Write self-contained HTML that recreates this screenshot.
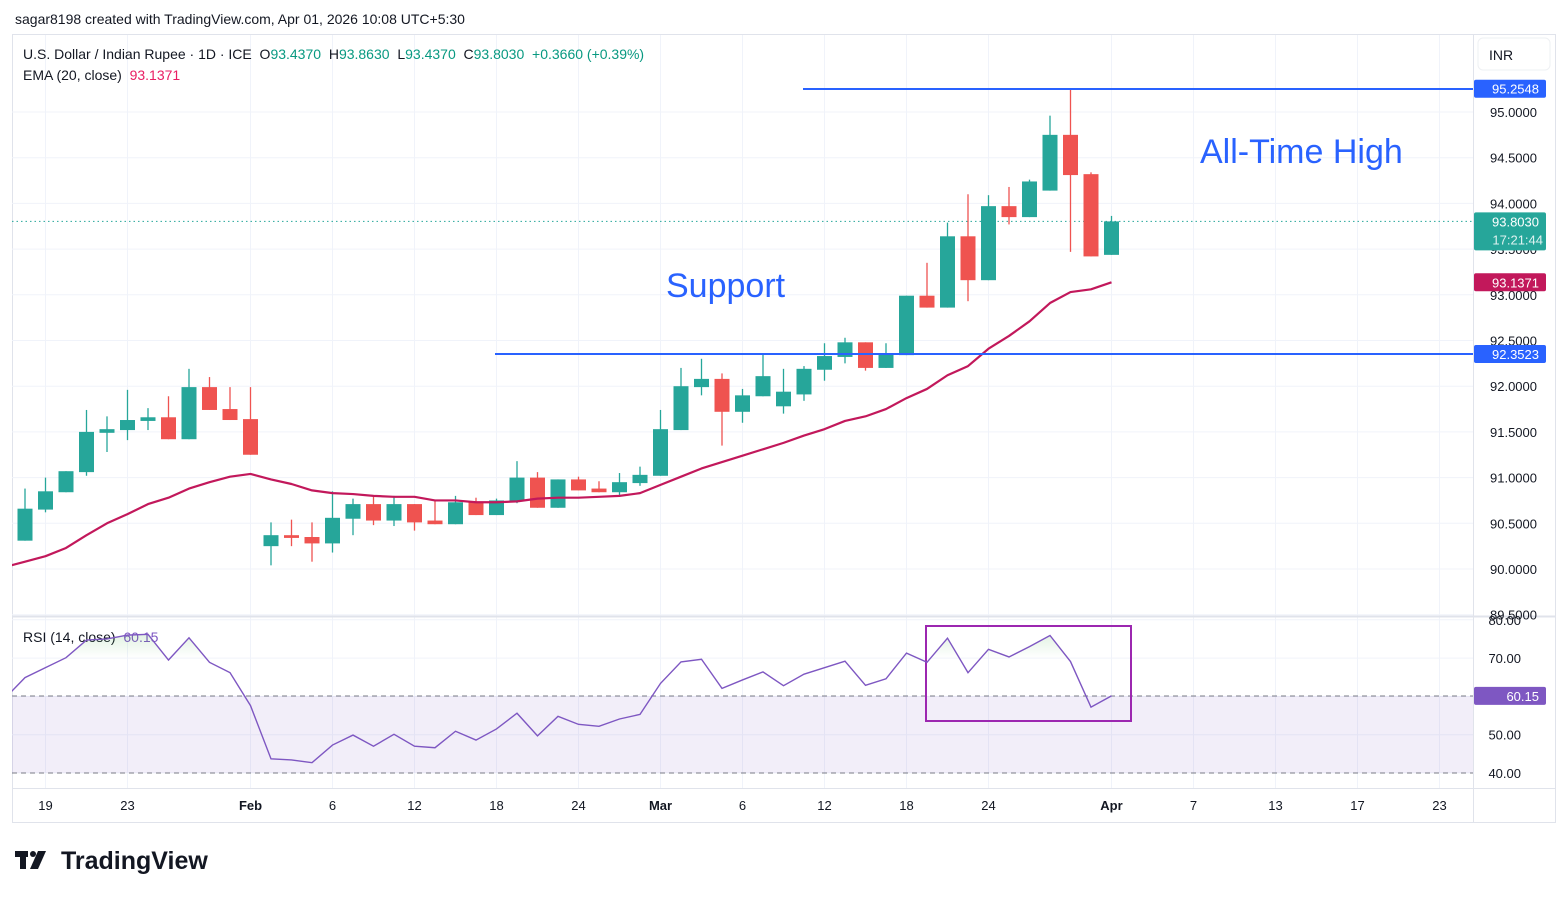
<!DOCTYPE html>
<html><head><meta charset="utf-8">
<style>
html,body{margin:0;padding:0;background:#fff;width:1568px;height:898px;overflow:hidden;font-family:"Liberation Sans",sans-serif;}
svg text{font-family:"Liberation Sans",sans-serif;white-space:pre;}
</style></head>
<body>
<svg id="chart" width="1568" height="898" viewBox="0 0 1568 898" xmlns="http://www.w3.org/2000/svg">
<text x="15" y="24" font-size="14" fill="#131722">sagar8198 created with TradingView.com, Apr 01, 2026 10:08 UTC+5:30</text>
<rect x="12.5" y="34.5" width="1543" height="788" fill="none" stroke="#e0e3eb"/>
<g id="grid"></g>
<rect x="12" y="696" width="1461" height="77" fill="#7e57c2" fill-opacity="0.1"/>
<line x1="12" x2="1473" y1="696" y2="696" stroke="#787b86" stroke-dasharray="5,4"/>
<line x1="12" x2="1473" y1="773" y2="773" stroke="#787b86" stroke-dasharray="5,4"/>
<line x1="12" x2="1556" y1="616.5" y2="616.5" stroke="#e0e3eb" stroke-width="2"/>
<line x1="12" x2="1556" y1="788.5" y2="788.5" stroke="#e0e3eb"/>
<line x1="1473.5" x2="1473.5" y1="34" y2="823" stroke="#e0e3eb"/>
<g id="marks"></g>
<line x1="803" x2="1473" y1="89" y2="89" stroke="#2962ff" stroke-width="2"/>
<line x1="495" x2="1473" y1="354" y2="354" stroke="#2962ff" stroke-width="2"/>
<text x="1200" y="163" font-size="34" fill="#2962ff">All-Time High</text>
<text x="666" y="297" font-size="34" fill="#2962ff">Support</text>
<rect x="926" y="626" width="205" height="95" fill="none" stroke="#9c27b0" stroke-width="2"/>
<text x="23" y="59" font-size="14" fill="#131722">U.S. Dollar / Indian Rupee · 1D · ICE  O<tspan fill="#089981">93.4370</tspan>  H<tspan fill="#089981">93.8630</tspan>  L<tspan fill="#089981">93.4370</tspan>  C<tspan fill="#089981">93.8030</tspan>  <tspan fill="#089981">+0.3660 (+0.39%)</tspan></text>
<text x="23" y="80" font-size="14" fill="#131722">EMA (20, close)  <tspan fill="#e91e63">93.1371</tspan></text>
<text x="23" y="642" font-size="14" fill="#131722">RSI (14, close)  <tspan fill="#7e57c2">60.15</tspan></text>
<rect x="1478" y="38" width="72" height="32" rx="5" fill="#fff" stroke="#eef0f3"/>
<text x="1489" y="60" font-size="14" fill="#131722">INR</text>
<g id="axislabels"></g>
<g>
<rect x="15" y="851" width="13" height="6" fill="#131722"/><rect x="20" y="851" width="6" height="18" fill="#131722"/>
<circle cx="33" cy="854" r="3" fill="#131722"/><polygon points="38,851 46,851 38,869 30,869" fill="#131722"/>
<text x="61" y="869" font-size="25" font-weight="bold" fill="#131722">TradingView</text>
</g>
</svg>
<script>
// Data (index 0 = Jan 16, trading days)
const opens  = [90.31,90.65,90.84,91.06,91.49,91.52,91.62,91.66,91.42,91.99,91.75,91.64,90.25,90.37,90.35,90.28,90.55,90.71,90.53,90.71,90.53,90.49,90.73,90.59,90.74,91.00,90.67,90.98,90.88,90.84,90.94,91.02,91.52,91.99,92.08,91.72,91.89,91.78,91.91,92.18,92.32,92.48,92.20,92.34,92.99,92.86,93.64,93.16,93.97,93.85,94.14,94.75,94.32,93.437];
const highs  = [90.88,91.00,91.07,91.74,91.67,91.96,91.76,91.89,92.19,92.10,91.99,91.99,90.51,90.54,90.51,90.85,90.77,90.80,90.80,90.71,90.75,90.80,90.78,90.77,91.18,91.06,90.98,91.01,90.96,91.05,91.12,91.74,92.20,92.30,92.14,91.97,92.35,92.19,92.22,92.47,92.53,92.48,92.47,92.99,93.35,93.79,94.10,94.09,94.18,94.26,94.96,95.2548,94.34,93.863];
const lows   = [90.31,90.62,90.84,91.02,91.28,91.41,91.52,91.42,91.42,91.74,91.63,91.25,90.04,90.25,90.08,90.18,90.37,90.48,90.47,90.42,90.49,90.49,90.59,90.59,90.72,90.67,90.67,90.86,90.84,90.81,90.91,91.02,91.52,91.90,91.35,91.60,91.89,91.70,91.84,92.06,92.25,92.17,92.20,92.34,92.86,92.86,92.93,93.16,93.77,93.85,94.14,93.47,93.42,93.437];
const closes = [90.66,90.85,91.07,91.50,91.53,91.63,91.66,91.42,91.99,91.74,91.63,91.25,90.37,90.34,90.28,90.56,90.71,90.53,90.71,90.51,90.49,90.73,90.59,90.75,91.00,90.67,90.98,90.86,90.84,90.95,91.03,91.53,92.00,92.08,91.72,91.90,92.11,91.94,92.19,92.33,92.48,92.20,92.35,92.99,92.86,93.64,93.16,93.97,93.85,94.24,94.75,94.31,93.42,93.803];
// EMA and RSI start one day earlier (index -1)
const emaValues = [90.02,90.08,90.14,90.23,90.37,90.50,90.60,90.71,90.78,90.88,90.95,91.01,91.04,90.98,90.93,90.86,90.83,90.82,90.80,90.79,90.79,90.75,90.75,90.73,90.73,90.74,90.77,90.78,90.78,90.79,90.80,90.83,90.92,91.01,91.10,91.17,91.24,91.31,91.38,91.46,91.53,91.62,91.67,91.75,91.87,91.97,92.12,92.22,92.41,92.55,92.71,92.91,93.03,93.06,93.137];
const rsiValues = [59.4,64.9,67.5,70.1,74.7,75.0,76.0,76.2,69.5,75.3,68.9,66.2,57.6,43.7,43.4,42.7,47.3,49.9,47.0,50.1,47.0,46.6,50.9,48.6,51.5,55.6,49.7,54.8,52.7,52.2,54.1,55.3,63.4,69.0,69.7,62.1,64.3,66.4,62.8,65.8,67.5,69.2,62.9,64.6,71.3,68.9,75.2,66.2,72.3,70.3,73.0,75.9,69.1,57.2,60.15];
const priceTicks = [95.0,94.5,94.0,93.5,93.0,92.5,92.0,91.5,91.0,90.5,90.0,89.5];
const rsiTicks = [80,70,60,50,40];
const dateTickIdx = [1,5,11,15,19,23,27,31,35,39,43,47,53,57,61,65,69];
const dateTickLabels = ["19","23","Feb","6","12","18","24","Mar","6","12","18","24","Apr","7","13","17","23"];
const dateTickBold = ["Feb","Mar","Apr"];

const NS="http://www.w3.org/2000/svg";
const X=i=>25+i*20.5;
const Y=p=>569-(p-90)*91.4;
const RY=r=>773-(r-40)*3.83;
function mk(tag,attrs,parent){const e=document.createElementNS(NS,tag);for(const k in attrs)e.setAttribute(k,attrs[k]);parent.appendChild(e);return e;}
const svg=document.getElementById('chart');
const grid=document.getElementById('grid');
const marks=document.getElementById('marks');
const al=document.getElementById('axislabels');

const defs=mk('defs',{},svg);
const cp=mk('clipPath',{id:'plot'},defs);mk('rect',{x:12,y:35,width:1461,height:581},cp);
const cp2=mk('clipPath',{id:'rsiplot'},defs);mk('rect',{x:12,y:618,width:1461,height:170},cp2);
const cp3=mk('clipPath',{id:'ob'},defs);mk('rect',{x:12,y:618,width:1461,height:RY(70)-618},cp3);
const lg=mk('linearGradient',{id:'obg',x1:0,y1:0,x2:0,y2:1,gradientUnits:'userSpaceOnUse'},defs);
lg.setAttribute('y1',RY(77));lg.setAttribute('y2',RY(70));lg.setAttribute('x2',0);
mk('stop',{offset:'0','stop-color':'#4caf50','stop-opacity':'0.18'},lg);
mk('stop',{offset:'1','stop-color':'#4caf50','stop-opacity':'0'},lg);
marks.setAttribute('clip-path','url(#plot)');

priceTicks.forEach(p=>{
  const g=mk('line',{x1:12,x2:1473,y1:Y(p),y2:Y(p),stroke:'#f0f3fa'},grid);
  
  
  const t=mk('text',{x:1537,y:Y(p)+5,'font-size':13,fill:'#131722','text-anchor':'end'},al);
  t.textContent=p.toFixed(4);
  
  
});
rsiTicks.forEach(r=>{
  const g=mk('line',{x1:12,x2:1473,y1:RY(r),y2:RY(r),stroke:'#f0f3fa'},grid);
  
  
  const t=mk('text',{x:1521,y:RY(r)+5,'font-size':13,fill:'#131722','text-anchor':'end'},al);
  t.textContent=r.toFixed(2);
  
  
});
dateTickIdx.forEach((d,k)=>{
  const g=mk('line',{x1:X(d),x2:X(d),y1:35,y2:788,stroke:'#f0f3fa'},grid);
  
  
  const lab=dateTickLabels[k];
  const t=mk('text',{x:X(d),y:810,'font-size':13,fill:'#131722','text-anchor':'middle','font-weight':dateTickBold.includes(lab)?'bold':'normal'},al);
  t.textContent=lab;
  
  
});

const dl=mk('line',{x1:12,x2:1473,y1:Y(closes[closes.length-1]),y2:Y(closes[closes.length-1]),stroke:'#26a69a','stroke-dasharray':'1.5,3'},marks);



opens.forEach((o,i)=>{
  const c=closes[i],up=c>=o,col=up?'#26a69a':'#ef5350',x=X(i);
  const w=mk('line',{x1:x,x2:x,y1:Y(highs[i]),y2:Y(lows[i]),stroke:col,'stroke-width':1.3},marks);
  
  
  const top=Y(Math.max(o,c)),bot=Y(Math.min(o,c));
  const b=mk('rect',{x:x-7.5,y:top,width:15,height:Math.max(1.5,bot-top),fill:col},marks);
  
  
});
const emaPts=emaValues.map((v,k)=>X(k-1)+','+Y(v)).join(' ');
const ema=mk('polyline',{points:emaPts,fill:'none',stroke:'#c2185b','stroke-width':2.2,'stroke-linejoin':'round'},marks);



const rg=mk('g',{'clip-path':'url(#rsiplot)'},svg);
const rpts=rsiValues.map((v,k)=>[X(k-1),RY(v)]);
const obPoly=rpts.map(p=>p.join(',')).join(' ')+' '+rpts[rpts.length-1][0]+','+RY(70)+' '+rpts[0][0]+','+RY(70);
const og=mk('g',{'clip-path':'url(#ob)'},rg);
const ob=mk('polygon',{points:obPoly,fill:'url(#obg)'},og);


const rl=mk('polyline',{points:rpts.map(p=>p.join(',')).join(' '),fill:'none',stroke:'#7e57c2','stroke-width':1.4},rg);



function badge(y,h,col,txt,name,txt2){
  const g=mk('g',{},al);
  
  
  mk('rect',{x:1474,y:y-h/2,width:72,height:txt2?38:h,rx:2,fill:col},g);
  const t=mk('text',{x:1539,y:y+5,'font-size':13,fill:'#fff','text-anchor':'end'},g);t.textContent=txt;
  if(txt2){const t2=mk('text',{x:1543,y:y+23,'font-size':13,fill:'#fff','fill-opacity':0.85,'text-anchor':'end'},g);t2.textContent=txt2;}
}
badge(Y(95.2548),18,'#2962ff','95.2548','ath-price-badge');
badge(Y(92.3523),18,'#2962ff','92.3523','support-price-badge');
badge(Y(emaValues[emaValues.length-1]),18,'#c2185b','93.1371','ema-price-badge');
badge(Y(closes[closes.length-1]),18,'#26a69a','93.8030','last-price-badge','17:21:44');
badge(RY(rsiValues[rsiValues.length-1]),18,'#7e57c2','60.15','rsi-value-badge');
</script>
</body></html>
